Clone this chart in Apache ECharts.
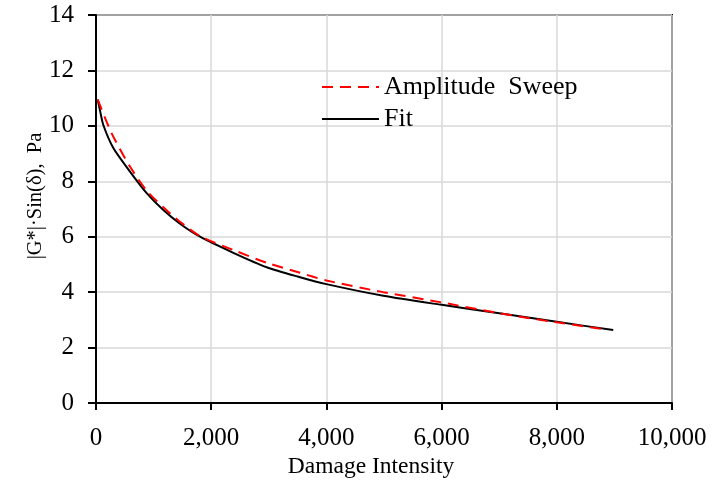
<!DOCTYPE html>
<html>
<head>
<meta charset="utf-8">
<script src="https://cdn.jsdelivr.net/npm/echarts@6/dist/echarts.min.js"></script>
<style>html,body{margin:0;padding:0;background:#fff}#c{width:713px;height:489px}</style>
</head>
<body>
<div id="c"></div>
<script>
// Amplitude sweep (measured) [damage intensity, |G*|sin(delta)]
const sweepX = [30, 272, 590, 880, 1169, 1458, 1806, 2384, 2963, 3542, 4000, 4988, 5972, 7000, 8000, 8870];
const sweepY = [10.95, 9.73, 8.53, 7.66, 7.06, 6.54, 6.02, 5.52, 5.06, 4.70, 4.42, 4.0, 3.64, 3.24, 2.91, 2.65];
// Fit
const fitX = [30, 70, 127, 301, 590, 880, 1169, 1458, 1806, 2384, 2963, 3542, 4000, 4988, 5972, 7000, 8000, 8980];
const fitY = [10.95, 10.55, 10.03, 9.2, 8.35, 7.57, 6.96, 6.47, 6.0, 5.42, 4.90, 4.54, 4.29, 3.87, 3.55, 3.24, 2.93, 2.63];
const seriesNames = ['Amplitude  Sweep', 'Fit'];
const xAxisName = 'Damage Intensity';
const yAxisName = '|G*|·Sin(δ),  Pa';

const FONT = '"Liberation Serif", "Times New Roman", serif';
const pair = (xs, ys) => xs.map((x, i) => [x, ys[i]]);

const chart = echarts.init(document.getElementById('c'), null, {renderer: 'canvas'});
chart.setOption({
  animation: false,
  backgroundColor: '#fff',
  grid: {left: 96, right: 41, top: 15, bottom: 86, show: true, borderColor: '#000', borderWidth: 2, backgroundColor: 'transparent'},
  legend: {
    orient: 'vertical', left: 316, top: 69, itemWidth: 57, itemHeight: 14, itemGap: 6,
    itemStyle: {opacity: 0},
    textStyle: {fontFamily: FONT, fontSize: 26, color: '#000'},
    data: seriesNames
  },
  xAxis: {
    type: 'value', min: 0, max: 10000, interval: 2000,
    name: xAxisName, nameLocation: 'middle', nameGap: 52, nameMoveOverlap: false,
    nameTextStyle: {fontFamily: FONT, fontSize: 23.5, color: '#000', padding: [0, 26, 0, 0]},
    axisLine: {show: true, onZero: false, lineStyle: {color: '#000', width: 2}},
    axisTick: {show: true, inside: false, length: 7, lineStyle: {color: '#000', width: 2}},
    axisLabel: {fontFamily: FONT, fontSize: 25, color: '#000', margin: 23,
      formatter: v => v.toLocaleString('en-US')},
    splitLine: {show: true, lineStyle: {color: '#d9d9d9', width: 1.5}}
  },
  yAxis: {
    type: 'value', min: 0, max: 14, interval: 2,
    name: yAxisName, nameLocation: 'middle', nameGap: 50, nameMoveOverlap: false,
    nameTextStyle: {fontFamily: FONT, fontSize: 20.5, color: '#000', padding: [0, 0, 0, 26]},
    axisLine: {show: true, onZero: false, lineStyle: {color: '#000', width: 2}},
    axisTick: {show: true, inside: false, length: 8, lineStyle: {color: '#000', width: 2}},
    axisLabel: {fontFamily: FONT, fontSize: 25, color: '#000', margin: 22},
    splitLine: {show: true, lineStyle: {color: '#d9d9d9', width: 1.5}}
  },
  series: [
    {
      name: seriesNames[0], type: 'line', data: pair(sweepX, sweepY), smooth: 0.25,
      showSymbol: false, symbol: 'none', z: 3,
      lineStyle: {color: '#ff0000', width: 2, type: [11, 7]},
      itemStyle: {color: '#ff0000'}
    },
    {
      name: seriesNames[1], type: 'line', data: pair(fitX, fitY), smooth: 0.25,
      showSymbol: false, symbol: 'none', z: 2,
      lineStyle: {color: '#000', width: 2},
      itemStyle: {color: '#000'}
    }
  ]
});
</script>
</body>
</html>
